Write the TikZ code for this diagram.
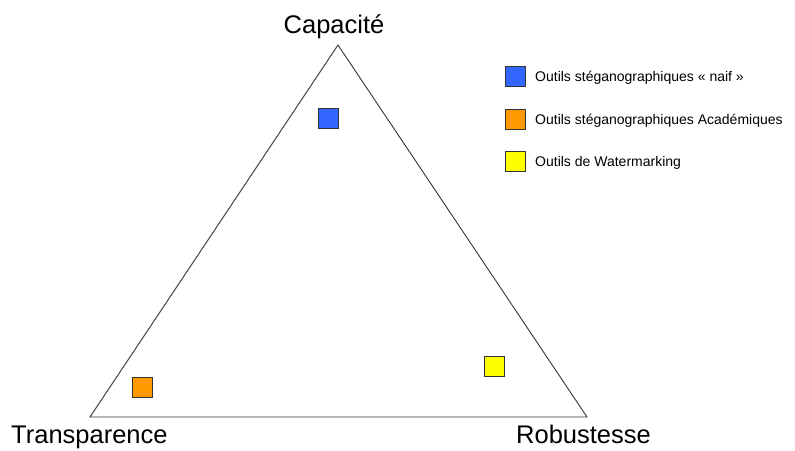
\documentclass[tikz,border=0pt]{standalone}
\usepackage{fontspec}
\setmainfont{Liberation Sans}
\definecolor{naifblue}{HTML}{3366FF}
\definecolor{acaorange}{HTML}{FF9900}
\definecolor{wmyellow}{HTML}{FFFF00}
\definecolor{edgegray}{HTML}{333333}

\begin{document}
\begin{tikzpicture}[x=1pt, y=-1pt,
  tool/.style={draw=edgegray, line width=1pt, minimum size=20pt, inner sep=0pt},
  corner/.style={font=\fontsize{25.5}{28}\selectfont, inner sep=0pt},
  legend/.style={font=\fontsize{14}{16}\selectfont, inner sep=0pt, anchor=base west}]
\useasboundingbox (0,0) rectangle (795,450);

% the triangle and its three corners
\coordinate (cap) at (338,45);
\coordinate (tra) at (90,417);
\coordinate (rob) at (587,417);
\draw[edgegray, line width=0.9pt] (cap) -- (tra) -- (rob) -- cycle;
\node[corner, anchor=base] (capl) at (334,33) {Capacité};
\node[corner, anchor=base west] (tral) at (11,443.5) {Transparence};
\node[corner, anchor=base west] (robl) at (516,443.5) {Robustesse};

% where each family of tools sits
\node[tool, fill=naifblue] (naif) at (328,118) {};
\node[tool, fill=acaorange] (aca) at (142,387) {};
\node[tool, fill=wmyellow] (wm) at (494,366) {};

% legend
\node[tool, fill=naifblue] (kn) at (515,76) {};
\node[tool, fill=acaorange] (ka) at (515,119) {};
\node[tool, fill=wmyellow] (kw) at (515,161) {};
\node[legend] (tn) at (535,81) {Outils stéganographiques « naif »};
\node[legend] (ta) at (535,124) {Outils stéganographiques Académiques};
\node[legend] (tw) at (535,166) {Outils de Watermarking};
\end{tikzpicture}
\end{document}
